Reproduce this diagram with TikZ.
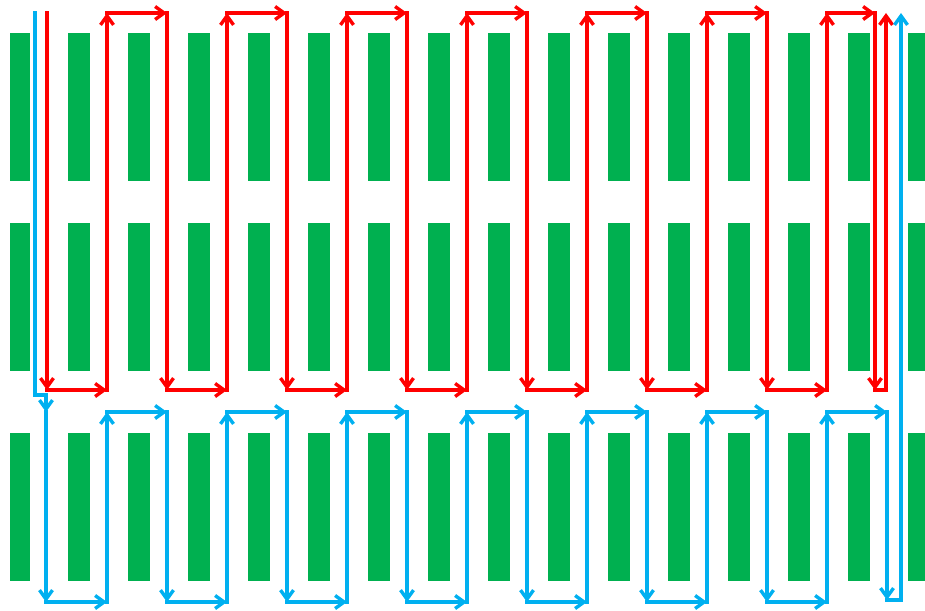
\documentclass[tikz,border=0pt]{standalone}
\usepackage{tikz}
\usetikzlibrary{arrows.meta}
\definecolor{BarGreen}{HTML}{00B050}
\definecolor{PathRed}{HTML}{FF0000}
\definecolor{PathBlue}{HTML}{00B0F0}
\tikzset{
  leg/.style={line width=3.4pt,line cap=rect},
  redleg/.style={leg,draw=PathRed,-{Straight Barb[length=9pt,width=13pt]}},
  blueleg/.style={leg,draw=PathBlue,-{Straight Barb[length=9pt,width=13pt]}}
}
\begin{document}
\begin{tikzpicture}[x=1pt,y=-1pt]
  \clip (0,0) rectangle (925,610);
  % green bars, three rows
  \foreach \y in {33,223,433}
    \foreach \x in {8,68,...,908}
      \fill[BarGreen] ({max(\x,10)},\y) rectangle (\x+22,\y+148);
  % red route over the two upper rows
  \draw[redleg] (47,13) -- (47,390);
  \foreach \x in {47,167,...,767} {
    \draw[redleg] (\x,390) -- (\x+60,390);
    \draw[redleg] (\x+60,390) -- (\x+60,13);
  }
  \foreach \x in {107,227,...,707} {
    \draw[redleg] (\x,13) -- (\x+60,13);
    \draw[redleg] (\x+60,13) -- (\x+60,390);
  }
  \draw[redleg] (827,13) -- (875,13);
  \draw[redleg] (875,13) -- (875,390);
  \draw[leg,PathRed] (875,390) -- (886,390);
  \draw[redleg] (886,390) -- (886,13);
  % blue route over the lower row
  \draw[leg,PathBlue] (35,13) -- (35,395) -- (46,395);
  \draw[blueleg] (46,395) -- (46,412);
  \draw[blueleg] (46,412) -- (46,602);
  \draw[blueleg] (46,602) -- (107,602);
  \draw[blueleg] (107,602) -- (107,412);
  \foreach \x in {167,287,...,767} {
    \draw[blueleg] (\x,602) -- (\x+60,602);
    \draw[blueleg] (\x+60,602) -- (\x+60,412);
  }
  \foreach \x in {107,227,...,707} {
    \draw[blueleg] (\x,412) -- (\x+60,412);
    \draw[blueleg] (\x+60,412) -- (\x+60,602);
  }
  \draw[blueleg] (827,412) -- (887,412);
  \draw[blueleg] (887,412) -- (887,600);
  \draw[leg,PathBlue] (887,600) -- (901,600);
  \draw[blueleg] (901,600) -- (901,13);
\end{tikzpicture}
\end{document}
